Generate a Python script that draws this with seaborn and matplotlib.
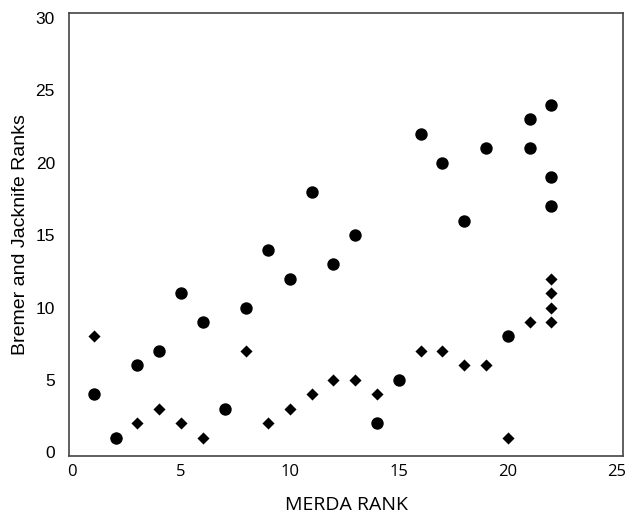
import matplotlib
matplotlib.use("Agg")
import matplotlib.pyplot as plt
import seaborn as sns
import pandas as pd

# Circle series (Bremer ranks)
bremer_x = [1, 2, 3, 4, 5, 6, 7, 8, 9, 10, 11, 12, 13, 14, 15, 16, 17, 18, 19, 20, 21, 21, 22, 22, 22]
bremer_y = [4, 1, 6, 7, 11, 9, 3, 10, 14, 12, 18, 13, 15, 2, 5, 22, 20, 16, 21, 8, 23, 21, 24, 19, 17]
# Diamond series (Jackknife ranks)
jack_x = [1, 2, 3, 4, 5, 6, 8, 9, 10, 11, 12, 13, 14, 16, 17, 18, 19, 20, 21, 22, 22, 22, 22]
jack_y = [8, 1, 2, 3, 2, 1, 7, 2, 3, 4, 5, 5, 4, 7, 7, 6, 6, 1, 9, 12, 11, 10, 9]

x_ticks = [0, 5, 10, 15, 20, 25]
y_ticks = [0, 5, 10, 15, 20, 25, 30]

df = pd.concat([
    pd.DataFrame({"x": bremer_x, "y": bremer_y, "series": "Bremer"}),
    pd.DataFrame({"x": jack_x, "y": jack_y, "series": "Jackknife"}),
], ignore_index=True)

sns.set_style("white")
plt.rcParams["text.color"] = "black"
plt.rcParams["axes.labelcolor"] = "black"
plt.rcParams["xtick.color"] = "black"
plt.rcParams["ytick.color"] = "black"

fig = plt.figure(figsize=(6.32, 5.14), dpi=100)
ax = fig.add_axes([0.109, 0.113, 0.877, 0.862])

sns.scatterplot(data=df[df.series == "Bremer"], x="x", y="y", marker="o", s=80,
                color="black", edgecolor="black", linewidth=0, ax=ax, legend=False)
sns.scatterplot(data=df[df.series == "Jackknife"], x="x", y="y", marker="D", s=38,
                color="black", edgecolor="black", linewidth=0, ax=ax, legend=False)

ax.set_xlim(-0.15, 25.3)
ax.set_ylim(-0.25, 30.35)
ax.set_xticks(x_ticks)
ax.set_yticks(y_ticks)
ax.set_xticklabels([str(t) for t in x_ticks], fontfamily="Open Sans", fontsize=12)
ax.set_yticklabels([str(t) for t in y_ticks], fontfamily="Liberation Sans", fontsize=12.5)
ax.tick_params(length=0)
ax.tick_params(axis="x", pad=6)
ax.tick_params(axis="y", pad=10)
for s in ax.spines.values():
    s.set_visible(True)
    s.set_color("#444444")
    s.set_linewidth(1.2)

ax.set_xlabel("MERDA RANK", fontfamily="Open Sans", fontsize=14, labelpad=11)
ax.set_ylabel("Bremer and Jacknife Ranks", fontfamily="Liberation Sans", fontsize=14, labelpad=5)

fig.savefig("out.png", dpi=100)
